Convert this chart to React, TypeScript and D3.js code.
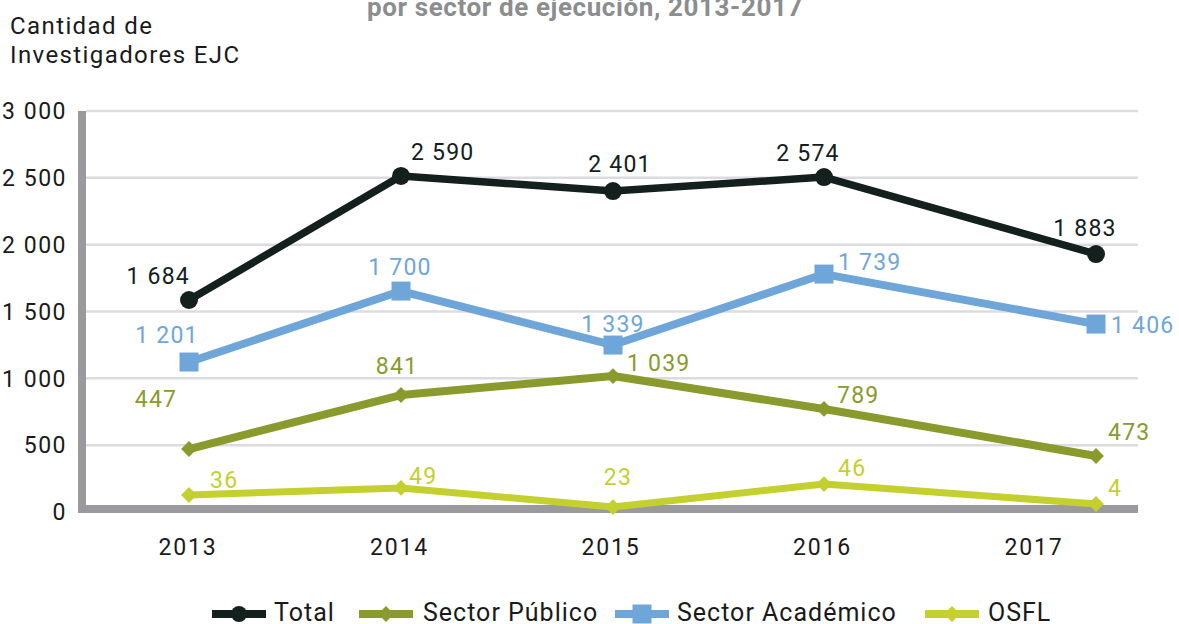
import React from "react";
import * as d3 from "d3";

const years = ["2013", "2014", "2015", "2016", "2017"];
const yTicks = [0, 500, 1000, 1500, 2000, 2500, 3000];

// plotted values and printed labels
const totalValues = [1586, 2514, 2401, 2506, 1930];
const academicoValues = [1122, 1653, 1249, 1780, 1406];
const publicoValues = [471, 875, 1017, 771, 419];
const osflValues = [127, 180, 37, 209, 60];

const totalLabels = [1684, 2590, 2401, 2574, 1883];
const academicoLabels = [1201, 1700, 1339, 1739, 1406];
const publicoLabels = [447, 841, 1039, 789, 473];
const osflLabels = [36, 49, 23, 46, 4];

const seriesNames = ["Total", "Sector Público", "Sector Académico", "OSFL"];

type Place = [number, number, string];
// label offsets relative to each point: dx, dy, anchor
const totalPlace: Place[] = [[1, -16, "end"], [10, -16, "start"], [7, -19, "middle"], [-16, -16, "middle"], [-11, -18, "middle"]];
const academicoPlace: Place[] = [[-22, -19, "middle"], [-1, -16, "middle"], [0, -13, "middle"], [14, -4, "start"], [15, 9, "start"]];
const publicoPlace: Place[] = [[-33, -42, "middle"], [-4, -21, "middle"], [14, -5, "start"], [13, -6, "start"], [12, -16, "start"]];
const osflPlace: Place[] = [[21, -7, "start"], [8, -4, "start"], [5, -22, "middle"], [14, -8, "start"], [12, -8, "start"]];

const FONT = "Roboto, 'DejaVu Sans', sans-serif";
const locale = d3.formatLocale({ decimal: ",", thousands: " ", grouping: [3], currency: ["", ""] });
const fmt = locale.format(",d");

export default function App() {
  const W = 1179, H = 624;
  const y = d3.scaleLinear().domain([0, 3000]).range([512, 111]);
  const xTick = d3.scalePoint<string>().domain(years).range([188, 1034]);
  const xMark = d3.scaleLinear().domain([0, 1, 2, 3, 4]).range([189, 401, 613, 824, 1096]);
  const line = d3.line<number>().x((_, i) => xMark(i)).y((v) => y(v));

  const series = [
    { name: "Total", values: totalValues, labels: totalLabels, place: totalPlace, color: "#14201e", sym: d3.symbolCircle, size: 254, width: 7.5 },
    { name: "Sector Académico", values: academicoValues, labels: academicoLabels, place: academicoPlace, color: "#6fa6d9", sym: d3.symbolSquare, size: 361, width: 8 },
    { name: "Sector Público", values: publicoValues, labels: publicoLabels, place: publicoPlace, color: "#8a9a2d", sym: d3.symbolDiamond2, size: 160, width: 8 },
    { name: "OSFL", values: osflValues, labels: osflLabels, place: osflPlace, color: "#c3d02e", sym: d3.symbolDiamond2, size: 160, width: 7 },
  ];
  const byName = (n: string) => series.find((s) => s.name === n)!;
  const legendX = [212, 359, 615, 925];
  const legendText = [274, 423, 677, 988];

  return (
    <svg width={W} height={H} style={{ position: "absolute", left: 0, top: 0, background: "#fff" }} fontFamily={FONT}>
      <text x={585} y={16} textAnchor="middle" fontSize={26} fontWeight="bold" letterSpacing={0.6} fill="#8b8d8f">
        por sector de ejecución, 2013-2017
      </text>
      <text x={10} y={34} fontSize={24} letterSpacing={1.4} fill="#1a1a1a">Cantidad de</text>
      <text x={10} y={63} fontSize={24} letterSpacing={1.4} fill="#1a1a1a">Investigadores EJC</text>

      {yTicks.filter((t) => t > 0).map((t) => (
        <line key={t} x1={86} x2={1138} y1={y(t)} y2={y(t)} stroke="#dcdbe0" strokeWidth={2.5} />
      ))}
      {yTicks.map((t) => (
        <text key={"l" + t} x={67} y={y(t)} dy="0.36em" textAnchor="end" fontSize={23} letterSpacing={1.5} fill="#1a1a1a">
          {fmt(t)}
        </text>
      ))}
      <rect x={78} y={111} width={8} height={402} fill="#9a999e" />
      <rect x={78} y={505} width={1060} height={8} fill="#9a999e" />
      {years.map((yr) => (
        <text key={yr} x={xTick(yr)} y={555} textAnchor="middle" fontSize={23} letterSpacing={1.8} fill="#1a1a1a">
          {yr}
        </text>
      ))}

      {series.map((s) => (
        <g key={s.name}>
          <path d={line(s.values)!} fill="none" stroke={s.color} strokeWidth={s.width} strokeLinejoin="round" />
          {s.values.map((v, i) => (
            <path key={i} transform={`translate(${xMark(i)},${y(v)})`} d={d3.symbol(s.sym, s.size)()!} fill={s.color} />
          ))}
          {s.values.map((v, i) => (
            <text
              key={"t" + i}
              x={xMark(i) + s.place[i][0]}
              y={y(v) + s.place[i][1]}
              textAnchor={s.place[i][2] as any}
              fontSize={23}
              letterSpacing={1.2}
              fill={s.color}
            >
              {fmt(s.labels[i])}
            </text>
          ))}
        </g>
      ))}

      {seriesNames.map((n, i) => {
        const s = byName(n);
        const x0 = legendX[i];
        return (
          <g key={n}>
            <line x1={x0} x2={x0 + 54} y1={614} y2={614} stroke={s.color} strokeWidth={8} />
            <path transform={`translate(${x0 + 27},614)`} d={d3.symbol(s.sym, s.name === "Total" ? 200 : s.size)()!} fill={s.color} />
            <text x={legendText[i]} y={621} fontSize={25} letterSpacing={1} fill="#1a1a1a">{n}</text>
          </g>
        );
      })}
    </svg>
  );
}
